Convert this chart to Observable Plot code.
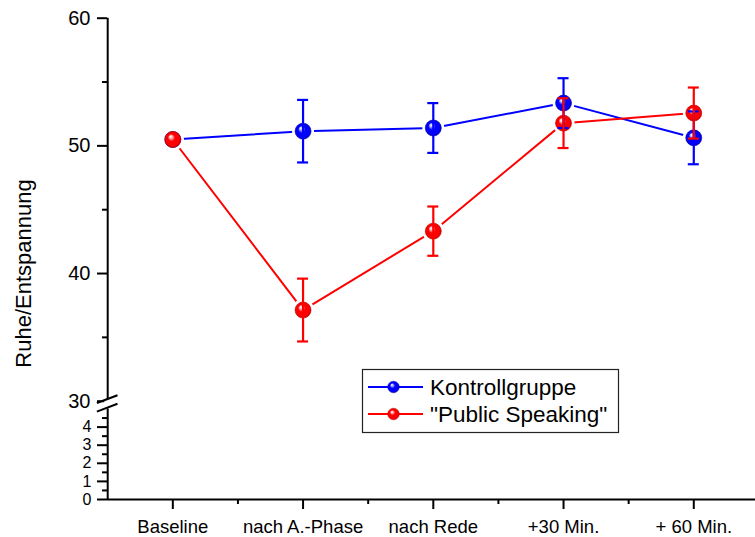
<!DOCTYPE html>
<html><head><meta charset="utf-8">
<script src="https://cdn.jsdelivr.net/npm/d3@7"></script>
<script src="https://cdn.jsdelivr.net/npm/@observablehq/plot@0.6"></script>
<style>
body{margin:0;background:#fff;}
#wrap{position:relative;width:755px;height:537px;overflow:hidden;}
</style></head><body><div id="wrap"></div>
<script>
const categories = ["Baseline", "nach A.-Phase", "nach Rede", "+30 Min.", "+ 60 Min."];
const kontrollMean = [50.5, 51.15, 51.4, 53.35, 50.63];
const kontrollErr = [0, 2.45, 1.95, 1.95, 2.07];
const speakingMean = [50.5, 37.14, 43.32, 51.78, 52.57];
const speakingErr = [0, 2.46, 1.93, 1.95, 2.0];
const seriesNames = ["Kontrollgruppe", "\"Public Speaking\""];
const seriesColors = ["#0000ff", "#ff0000"];
const seriesDark = ["#0000b0", "#c00000"];
const seriesLight = ["#b8b8ff", "#ffc0c0"];
const upperTicks = [30, 40, 50, 60];
const lowerTicks = [0, 1, 2, 3, 4];
const minorTicks = [0.5, 1.5, 2.5, 3.5, 4.5, 35, 45, 55];
const yTitle = "Ruhe/Entspannung";

const rows = [];
[[kontrollMean, kontrollErr], [speakingMean, speakingErr]].forEach(([means, errs], s) => {
  means.forEach((m, i) => rows.push({s, x: i + 1, y: m, lo: m - errs[i], hi: m + errs[i], err: errs[i]}));
});
const bySeries = s => rows.filter(d => d.s === s);
const withErr = s => rows.filter(d => d.s === s && d.err > 0);

const FONT = "'Liberation Sans', Arial, sans-serif";

function breakMark(index, scales) {
  const x0 = scales.x(0.5);
  const mid = (scales.y(30) + scales.y(5)) / 2 - 1.2;
  const g = d3.create("svg:g");
  g.append("rect").attr("x", x0 - 3).attr("y", mid - 4).attr("width", 6).attr("height", 8).attr("fill", "white");
  for (const off of [-4.3, 4.3]) {
    g.append("line")
      .attr("x1", x0 - 10.3).attr("y1", mid + off + 3.9)
      .attr("x2", x0 + 10.3).attr("y2", mid + off - 3.9)
      .attr("stroke", "black").attr("stroke-width", 2);
  }
  return g.node();
}

const marks = [
  Plot.ruleY([0], {stroke: "black", strokeWidth: 2}),
  Plot.ruleX([0.5], {y1: 0, y2: 5, stroke: "black", strokeWidth: 2}),
  Plot.ruleX([0.5], {y1: 30, y2: 60, stroke: "black", strokeWidth: 2}),
  Plot.axisY({ticks: upperTicks, tickSize: 10, tickPadding: 7, fontSize: 20, strokeWidth: 2, label: null, tickFormat: d => String(d)}),
  Plot.axisY({ticks: lowerTicks, tickSize: 10, tickPadding: 6, fontSize: 16, strokeWidth: 2, label: null, tickFormat: d => String(d)}),
  Plot.axisY({ticks: minorTicks, tickSize: 5, strokeWidth: 2, label: null, tickFormat: () => ""}),
  Plot.axisX({ticks: [1, 2, 3, 4, 5], tickSize: 10, tickPadding: 10, fontSize: 18.5, strokeWidth: 2, label: null, tickFormat: i => categories[i - 1]}),
  Plot.axisX({ticks: [1.5, 2.5, 3.5, 4.5], tickSize: 5, strokeWidth: 2, label: null, tickFormat: () => ""}),
  breakMark,
  Plot.text([yTitle], {frameAnchor: "left", textAnchor: "middle", lineAnchor: "middle", rotate: -90, dx: -84, dy: 14.5, fontSize: 22, fill: "black"})
];
for (const s of [0, 1]) marks.push(Plot.line(bySeries(s), {x: "x", y: "y", stroke: seriesColors[s], strokeWidth: 2}));
for (const s of [0, 1]) marks.push(Plot.dot(bySeries(s), {x: "x", y: "y", r: 8, fill: "white", stroke: "white", strokeWidth: 6}));
for (const s of [0, 1]) marks.push(Plot.dot(bySeries(s), {x: "x", y: "y", r: 8, fill: `url(#sphere${s})`, stroke: seriesDark[s], strokeWidth: 0.6}));
for (const s of [0, 1]) {
  marks.push(Plot.ruleX(withErr(s), {x: "x", y1: "lo", y2: "hi", stroke: seriesColors[s], strokeWidth: 2.2}));
  marks.push(Plot.ruleY(withErr(s), {x1: "x", x2: "x", y: "hi", insetLeft: -5.5, insetRight: -5.5, stroke: seriesColors[s], strokeWidth: 2.2}));
  marks.push(Plot.ruleY(withErr(s), {x1: "x", x2: "x", y: "lo", insetLeft: -5.5, insetRight: -5.5, stroke: seriesColors[s], strokeWidth: 2.2}));
}

const svg = Plot.plot({
  width: 755,
  height: 537,
  marginLeft: 107,
  marginRight: -3,
  marginTop: 18,
  marginBottom: 38,
  style: {fontFamily: FONT, color: "black", background: "white", overflow: "hidden"},
  x: {type: "linear", domain: [0.5, 5.5], range: [107.2, 758.4], label: null},
  y: {type: "linear", domain: [0, 5, 30, 60], range: [499, 408.5, 400.7, 17.7], label: null},
  marks
});

const sel = d3.select(svg);
const defs = sel.insert("defs", ":first-child");
seriesColors.forEach((c, s) => {
  const g = defs.append("radialGradient").attr("id", `sphere${s}`)
    .attr("cx", "0.5").attr("cy", "0.5").attr("r", "0.5").attr("fx", "0.35").attr("fy", "0.3");
  g.append("stop").attr("offset", "0%").attr("stop-color", "#ffffff");
  g.append("stop").attr("offset", "18%").attr("stop-color", seriesLight[s]);
  g.append("stop").attr("offset", "45%").attr("stop-color", c);
  g.append("stop").attr("offset", "85%").attr("stop-color", c);
  g.append("stop").attr("offset", "100%").attr("stop-color", seriesDark[s]);
});

// legend (layout box)
const lg = sel.append("g").attr("transform", "translate(362,369)");
lg.append("rect").attr("x", 0.5).attr("y", 0.5).attr("width", 256).attr("height", 63)
  .attr("fill", "white").attr("stroke", "#222").attr("stroke-width", 1.2);
seriesNames.forEach((name, s) => {
  const cy = 18 + s * 27;
  lg.append("line").attr("x1", 6).attr("x2", 61).attr("y1", cy).attr("y2", cy)
    .attr("stroke", seriesColors[s]).attr("stroke-width", 2);
  lg.append("circle").attr("cx", 31.5).attr("cy", cy).attr("r", 5.8)
    .attr("fill", `url(#sphere${s})`).attr("stroke", seriesDark[s]).attr("stroke-width", 0.5);
  lg.append("text").attr("x", 68).attr("y", cy + 7.5).attr("font-size", 22.5)
    .attr("text-anchor", "start")
    .attr("font-family", FONT).attr("fill", "black").text(name);
});

document.getElementById("wrap").appendChild(svg);
</script></body></html>
